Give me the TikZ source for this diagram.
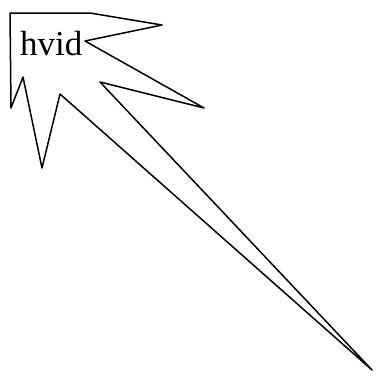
\documentclass[tikz,border=0pt]{standalone}
\usepackage{fontspec}
\setmainfont{Liberation Serif}
\begin{document}
\begin{tikzpicture}[
	x=1pt, y=-1pt,
	outline/.style={
		draw=black,
		line width=1.5pt,
		line join=round
	},
	word/.style={
		font=\fontsize{35}{40}\selectfont,
		inner sep=0pt,
		anchor=base west
	}
]
\useasboundingbox (0,0) rectangle (381,378);

% jagged star outline
\draw[outline] (10,13) -- (90,13) -- (162,25) -- (85,41) -- (204,108)
	-- (100,82) -- (372,370) -- (60,94) -- (42,168) -- (23,77)
	-- (11,108) -- cycle;

\node[word] (hvid) at (20,55) {hvid};

\end{tikzpicture}
\end{document}
